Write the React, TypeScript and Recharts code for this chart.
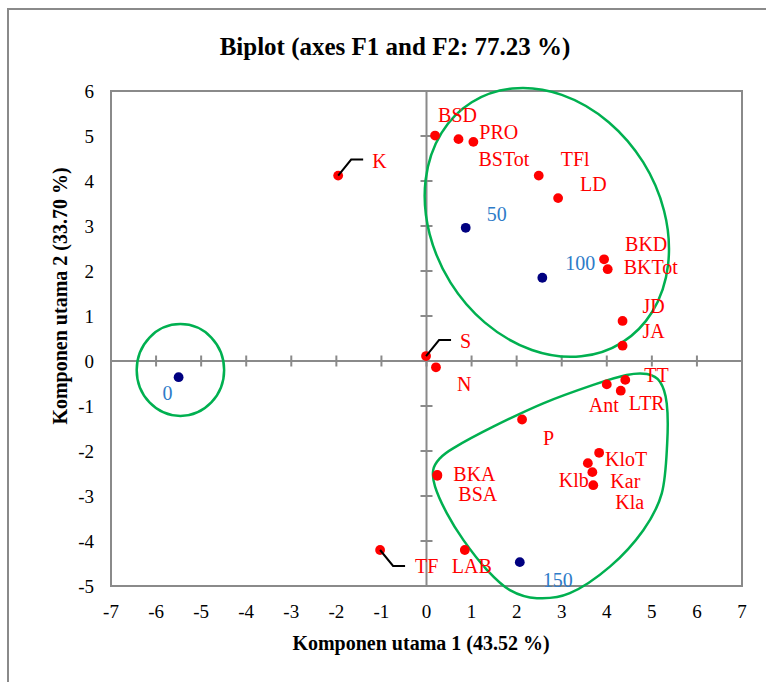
import {
  ScatterChart,
  Scatter,
  XAxis,
  YAxis,
  ReferenceLine,
  ReferenceDot,
  ReferenceArea,
} from "recharts";

const FONT = '"Liberation Serif", "Times New Roman", serif';

const X_TICKS = [-7, -6, -5, -4, -3, -2, -1, 0, 1, 2, 3, 4, 5, 6, 7];
const Y_TICKS = [-5, -4, -3, -2, -1, 0, 1, 2, 3, 4, 5, 6];

// variable coordinates on F1 / F2
const VAR_NAMES = [
  "BSD", "BSTot", "PRO", "TFl", "LD", "K", "BKD", "BKTot", "JD", "JA", "S", "N",
  "Ant", "TT", "LTR", "P", "KloT", "Klb", "Kar", "Kla", "BKA", "BSA", "LAB", "TF",
];
const VAR_F1 = [
  0.19, 0.71, 1.04, 2.49, 2.92, -1.96, 3.94, 4.02, 4.35, 4.35, -0.01, 0.21,
  4.0, 4.41, 4.31, 2.12, 3.83, 3.58, 3.68, 3.7, 0.24, 0.24, 0.85, -1.03,
];
const VAR_F2 = [
  5.01, 4.93, 4.87, 4.12, 3.62, 4.12, 2.26, 2.04, 0.89, 0.34, 0.11, -0.14,
  -0.52, -0.42, -0.66, -1.3, -2.04, -2.27, -2.47, -2.76, -2.53, -2.55, -4.2, -4.2,
];

// observations (dose levels)
const OBS_NAMES = ["0", "50", "100", "150"];
const OBS_F1 = [-5.5, 0.87, 2.57, 2.07];
const OBS_F2 = [-0.36, 2.96, 1.85, -4.47];

// label placement: [dx to text start, dy to text middle] in px
const LABEL_AT: Record<string, [number, number]> = {
  BSD: [3, -21], BSTot: [20, 20], PRO: [6, -10], TFl: [22, -17], LD: [22, -14],
  K: [34, -15], BKD: [21, -15], BKTot: [16, -2], JD: [20, -15], JA: [20, -15],
  S: [34, -15.5], N: [21, 17], Ant: [-18, 21], TT: [19, -4.5], LTR: [8, 12],
  P: [21, 18], KloT: [6, 6], Klb: [-29, 17], Kar: [18, 8.5], Kla: [22, 17],
  BKA: [16, -1], BSA: [21, 18], LAB: [-13, 15.5], TF: [35, 15.5],
  "0": [-16, 16], "50": [21, -14], "100": [23, -15], "150": [23, 18],
};
// labels moved away from their point get a leader line (-1 up, 1 down)
const LEADERS: Record<string, number> = { K: -1, S: -1, TF: 1 };

// group outlines, in axis units
const ELLIPSES = [
  { x: -5.46, y: -0.2, rx: 0.97, ry: 1.02, tilt: 0 },
  { x: 2.67, y: 3.08, rx: 2.52, ry: 3.15, tilt: -32 },
];
const BLOB_X = [
  0.15, 0.3, 0.59, 1.48, 2.59, 3.7, 4.44, 4.89, 5.18, 5.33, 5.34, 5.22, 4.81,
  4.07, 3.18, 2.45, 1.85, 1.34, 0.82, 0.45, 0.19,
];
const BLOB_Y = [
  -2.42, -2.16, -1.94, -1.46, -0.94, -0.53, -0.31, -0.29, -0.46, -0.94, -1.83,
  -2.94, -3.76, -4.57, -5.16, -5.27, -5.09, -4.64, -3.98, -3.38, -2.79,
];

const W = 766;
const H = 682;
const MARGIN = { top: 91, right: 24, bottom: 46, left: 51 };
const Y_AXIS_W = 60;
const X_AXIS_H = 50;
const PX_X = (W - MARGIN.left - Y_AXIS_W - MARGIN.right) / (X_TICKS[X_TICKS.length - 1] - X_TICKS[0]);
const PX_Y = (H - MARGIN.top - MARGIN.bottom - X_AXIS_H) / (Y_TICKS[Y_TICKS.length - 1] - Y_TICKS[0]);

const RED = "#FF0000";
const NAVY = "#000080";
const BLUE = "#2E7BC8";
const GREEN = "#00B050";
const GREY = "#8A8A8A";

const varData = VAR_NAMES.map((name, i) => ({ name, x: VAR_F1[i], y: VAR_F2[i] }));
const obsData = OBS_NAMES.map((name, i) => ({ name, x: OBS_F1[i], y: OBS_F2[i] }));

// closed Catmull-Rom curve through the outline points
function closedCurve(pts: [number, number][]) {
  const n = pts.length;
  let d = `M${pts[0][0]},${pts[0][1]}`;
  for (let i = 0; i < n; i++) {
    const p0 = pts[(i - 1 + n) % n];
    const p1 = pts[i];
    const p2 = pts[(i + 1) % n];
    const p3 = pts[(i + 2) % n];
    const c1x = p1[0] + (p2[0] - p0[0]) / 6;
    const c1y = p1[1] + (p2[1] - p0[1]) / 6;
    const c2x = p2[0] - (p3[0] - p1[0]) / 6;
    const c2y = p2[1] - (p3[1] - p1[1]) / 6;
    d += ` C${c1x},${c1y} ${c2x},${c2y} ${p2[0]},${p2[1]}`;
  }
  return d + "Z";
}

// drawn from the origin point, so outlines follow the chart scale
function GroupOutlines(props: any) {
  const { cx, cy } = props;
  const toPx = (x: number, y: number): [number, number] => [cx + x * PX_X, cy - y * PX_Y];
  const blob = BLOB_X.map((x, i) => toPx(x, BLOB_Y[i]));
  return (
    <g fill="none" stroke={GREEN} strokeWidth={2.5}>
      {ELLIPSES.map((e, i) => {
        const [ex, ey] = toPx(e.x, e.y);
        return (
          <ellipse
            key={i}
            cx={ex}
            cy={ey}
            rx={e.rx * PX_X}
            ry={e.ry * PX_Y}
            transform={`rotate(${e.tilt} ${ex} ${ey})`}
          />
        );
      })}
      <path d={closedCurve(blob)} />
    </g>
  );
}

function PointLabel({ cx, cy, name, color }: { cx: number; cy: number; name: string; color: string }) {
  const [dx, dy] = LABEL_AT[name] ?? [12, -12];
  const lead = LEADERS[name];
  return (
    <>
      {lead && (
        <polyline
          points={`${cx},${cy} ${cx + 13},${cy + lead * 16} ${cx + 25},${cy + lead * 16}`}
          fill="none"
          stroke="#000"
          strokeWidth={2}
        />
      )}
      <text x={cx + dx} y={cy + dy + 7} fill={color} fontSize={20} fontFamily={FONT}>
        {name}
      </text>
    </>
  );
}

function VarPoint(props: any) {
  const { cx, cy, payload } = props;
  return (
    <g>
      <circle cx={cx} cy={cy} r={4.9} fill={RED} />
      <PointLabel cx={cx} cy={cy} name={payload.name} color={RED} />
    </g>
  );
}

function ObsPoint(props: any) {
  const { cx, cy, payload } = props;
  return (
    <g>
      <circle cx={cx} cy={cy} r={4.9} fill={NAVY} />
      <PointLabel cx={cx} cy={cy} name={payload.name} color={BLUE} />
    </g>
  );
}

const vTick = (p: any) => (
  <line x1={p.cx} x2={p.cx} y1={p.cy - 5.5} y2={p.cy + 5.5} stroke={GREY} strokeWidth={2} />
);
const hTick = (p: any) => (
  <line x1={p.cx - 6} x2={p.cx + 6} y1={p.cy} y2={p.cy} stroke={GREY} strokeWidth={2} />
);

const tickStyle = { fill: "#000", fontSize: 19, fontFamily: FONT };

export default function App() {
  return (
    <div
      style={{
        position: "absolute",
        left: 0,
        top: 0,
        width: W,
        height: H,
        overflow: "hidden",
        background: "#fff",
        fontFamily: FONT,
      }}
    >
      <div
        style={{
          position: "absolute",
          left: 7,
          top: 8,
          width: W,
          height: H,
          border: `2px solid ${GREY}`,
        }}
      />
      <ScatterChart width={W} height={H} margin={MARGIN} style={{ position: "absolute", left: 0, top: 0 }}>
        <XAxis
          type="number"
          dataKey="x"
          domain={[-7, 7]}
          ticks={X_TICKS}
          interval={0}
          height={X_AXIS_H}
          axisLine={false}
          tickLine={false}
          tickSize={0}
          tickMargin={19}
          tick={tickStyle}
        />
        <YAxis
          type="number"
          dataKey="y"
          domain={[-5, 6]}
          ticks={Y_TICKS}
          interval={0}
          width={Y_AXIS_W}
          axisLine={false}
          tickLine={false}
          tickSize={0}
          tickMargin={17}
          tick={tickStyle}
        />
        <ReferenceArea x1={-7} x2={7} y1={-5} y2={6} fill="none" stroke={GREY} strokeWidth={2} />
        <ReferenceLine x={0} stroke={GREY} strokeWidth={2} />
        <ReferenceLine y={0} stroke={GREY} strokeWidth={2} />
        {X_TICKS.map((v) => (
          <ReferenceDot key={`xt${v}`} x={v} y={0} r={0} shape={vTick} />
        ))}
        {Y_TICKS.map((v) => (
          <ReferenceDot key={`yt${v}`} x={0} y={v} r={0} shape={hTick} />
        ))}
        <Scatter data={[{ x: 0, y: 0 }]} shape={GroupOutlines} isAnimationActive={false} />
        <Scatter data={varData} shape={VarPoint} isAnimationActive={false} />
        <Scatter data={obsData} shape={ObsPoint} isAnimationActive={false} />
      </ScatterChart>
      <div
        style={{
          position: "absolute",
          left: 395,
          top: 46,
          transform: "translate(-50%, -50%)",
          fontSize: 25,
          fontWeight: "bold",
          whiteSpace: "nowrap",
          lineHeight: 1,
        }}
      >
        Biplot (axes F1 and F2: 77.23 %)
      </div>
      <div
        style={{
          position: "absolute",
          left: 421,
          top: 643,
          transform: "translate(-50%, -50%)",
          fontSize: 20,
          fontWeight: "bold",
          whiteSpace: "nowrap",
          lineHeight: 1,
        }}
      >
        Komponen utama 1 (43.52 %)
      </div>
      <div
        style={{
          position: "absolute",
          left: 60,
          top: 296,
          transform: "translate(-50%, -50%) rotate(-90deg)",
          fontSize: 20,
          fontWeight: "bold",
          whiteSpace: "nowrap",
          lineHeight: 1,
        }}
      >
        Komponen utama 2 (33.70 %)
      </div>
    </div>
  );
}
